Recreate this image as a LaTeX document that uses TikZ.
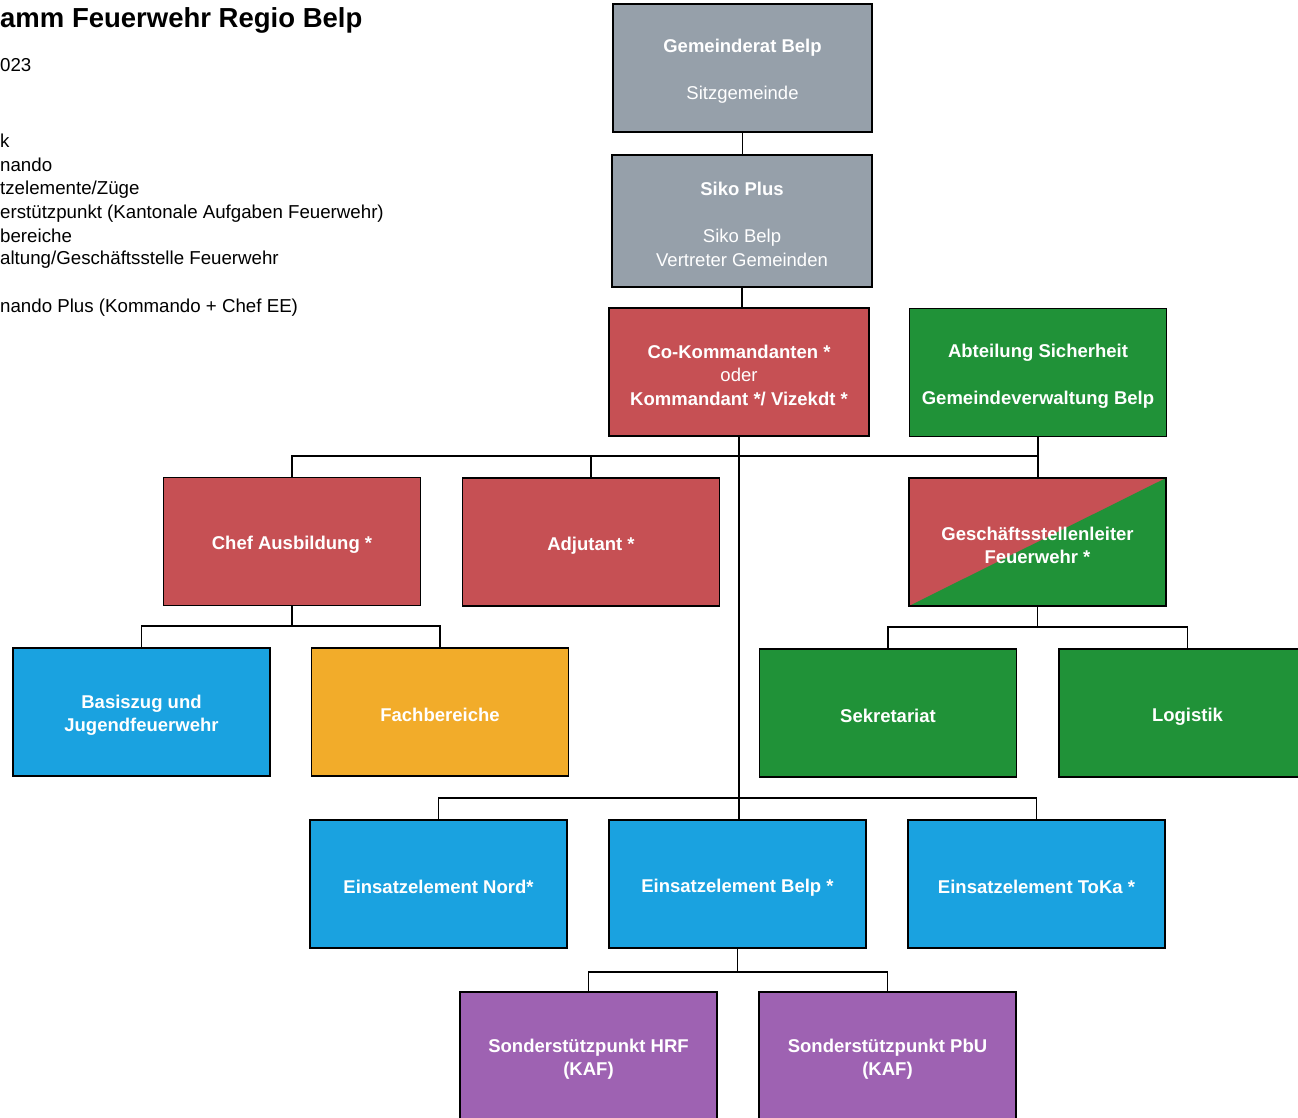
\documentclass[tikz,border=0pt]{standalone}
\usepackage{fontspec}
\setmainfont{Liberation Sans}
\definecolor{cgray}{RGB}{150,160,170}
\definecolor{cred}{RGB}{198,80,84}
\definecolor{cgreen}{RGB}{32,146,56}
\definecolor{cblue}{RGB}{26,162,224}
\definecolor{corange}{RGB}{242,172,42}
\definecolor{cpurple}{RGB}{158,98,178}
\newcommand{\tstrut}{\rule{0pt}{20pt}}
\begin{document}
\begin{tikzpicture}[x=1pt,y=-1pt,
  box/.style={draw=black, line width=1.8pt, minimum width=257pt, minimum height=128pt,
    inner sep=0pt, align=center, text=white, font=\bfseries\fontsize{18.5}{23.5}\selectfont},
  conn/.style={line width=1.8pt, draw=black},
  legend/.style={anchor=base west, inner sep=0pt, font=\fontsize{18.7}{22}\selectfont}]
\useasboundingbox (0,0) rectangle (1298,1117);
\clip (0,0) rectangle (1298,1117);
\fill[white] (0,0) rectangle (1298,1117);

% title and legend
\node[anchor=base west, inner sep=0pt, font=\bfseries\fontsize{27.5}{30}\selectfont] (title) at (0,27) {amm Feuerwehr Regio Belp};
\node[legend] (l0) at (0,71) {023};
\node[legend] (l1) at (0,147) {k};
\node[legend] (l2) at (0,171) {nando};
\node[legend] (l3) at (0,194) {tzelemente/Züge};
\node[legend] (l4) at (0,218) {erstützpunkt (Kantonale Aufgaben Feuerwehr)};
\node[legend] (l5) at (0,242) {bereiche};
\node[legend] (l6) at (0,264) {altung/Geschäftsstelle Feuerwehr};
\node[legend] (l7) at (0,312) {nando Plus (Kommando + Chef EE)};

% boxes
\node[box, fill=cgray, minimum width=259pt] (gem) at (742.5,68) {\tstrut Gemeinderat Belp\\[23.5pt]{\mdseries Sitzgemeinde}};
\node[box, fill=cgray, minimum width=260pt, minimum height=132pt] (siko) at (742,221) {\tstrut Siko Plus\\[23.5pt]{\mdseries Siko Belp}\\{\mdseries Vertreter Gemeinden}};
\node[box, fill=cred, minimum width=260pt] (co) at (739,372) {\tstrut Co-Kommandanten *\\{\mdseries oder}\\Kommandant */ Vizekdt *};
\node[box, fill=cgreen] (abt) at (1038,372.5) {\tstrut Abteilung Sicherheit\\[23.5pt]Gemeindeverwaltung Belp};

\node[box, fill=cred] (chef) at (292,541.5) {\tstrut Chef Ausbildung *};
\node[box, fill=cred] (adj) at (591,542) {\tstrut Adjutant *};
\node[box, fill=cred, path picture={\fill[cgreen] (path picture bounding box.south west) -- (path picture bounding box.north east) -- (path picture bounding box.south east) -- cycle;}] (gesch) at (1037.5,542) {\tstrut Geschäftsstellenleiter\\Feuerwehr *};

\node[box, fill=cblue] (basis) at (141.5,712) {\tstrut Basiszug und\\Jugendfeuerwehr};
\node[box, fill=corange] (fach) at (440,712) {\tstrut Fachbereiche};
\node[box, fill=cgreen] (sekr) at (888,713) {\tstrut Sekretariat};
\node[box, fill=cgreen] (logi) at (1187.5,713) {\tstrut Logistik};

\node[box, fill=cblue] (nord) at (438.5,884) {\tstrut Einsatzelement Nord*};
\node[box, fill=cblue] (belp) at (737.5,884) {\tstrut Einsatzelement Belp *};
\node[box, fill=cblue] (toka) at (1036.5,884) {\tstrut Einsatzelement ToKa *};

\node[box, fill=cpurple] (hrf) at (588.5,1056) {\tstrut Sonderstützpunkt HRF\\(KAF)};
\node[box, fill=cpurple] (pbu) at (887.5,1056) {\tstrut Sonderstützpunkt PbU\\(KAF)};

% bus coordinates
\coordinate (b1) at (0,456);
\coordinate (b2) at (0,626);
\coordinate (b3) at (0,627);
\coordinate (b4) at (0,798);
\coordinate (b5) at (0,972);

% connectors
\draw[conn] (gem.south) -- (gem.south |- siko.north);
\draw[conn] (siko.south) -- (siko.south |- co.north);
\draw[conn] (co.south) -- (co.south |- belp.north);
\draw[conn] (chef.north) -- (chef.north |- b1) -| (abt.south);
\draw[conn] (adj.north) -- (adj.north |- b1);
\draw[conn] (abt.south) -- (abt.south |- gesch.north);
\draw[conn] (chef.south) -- (chef.south |- b2);
\draw[conn] (basis.north) -- (basis.north |- b2) -| (fach.north);
\draw[conn] (gesch.south) -- (gesch.south |- b3);
\draw[conn] (sekr.north) -- (sekr.north |- b3) -| (logi.north);
\draw[conn] (nord.north) -- (nord.north |- b4) -| (toka.north);
\draw[conn] (belp.south) -- (belp.south |- b5);
\draw[conn] (hrf.north) -- (hrf.north |- b5) -| (pbu.north);
\end{tikzpicture}
\end{document}
